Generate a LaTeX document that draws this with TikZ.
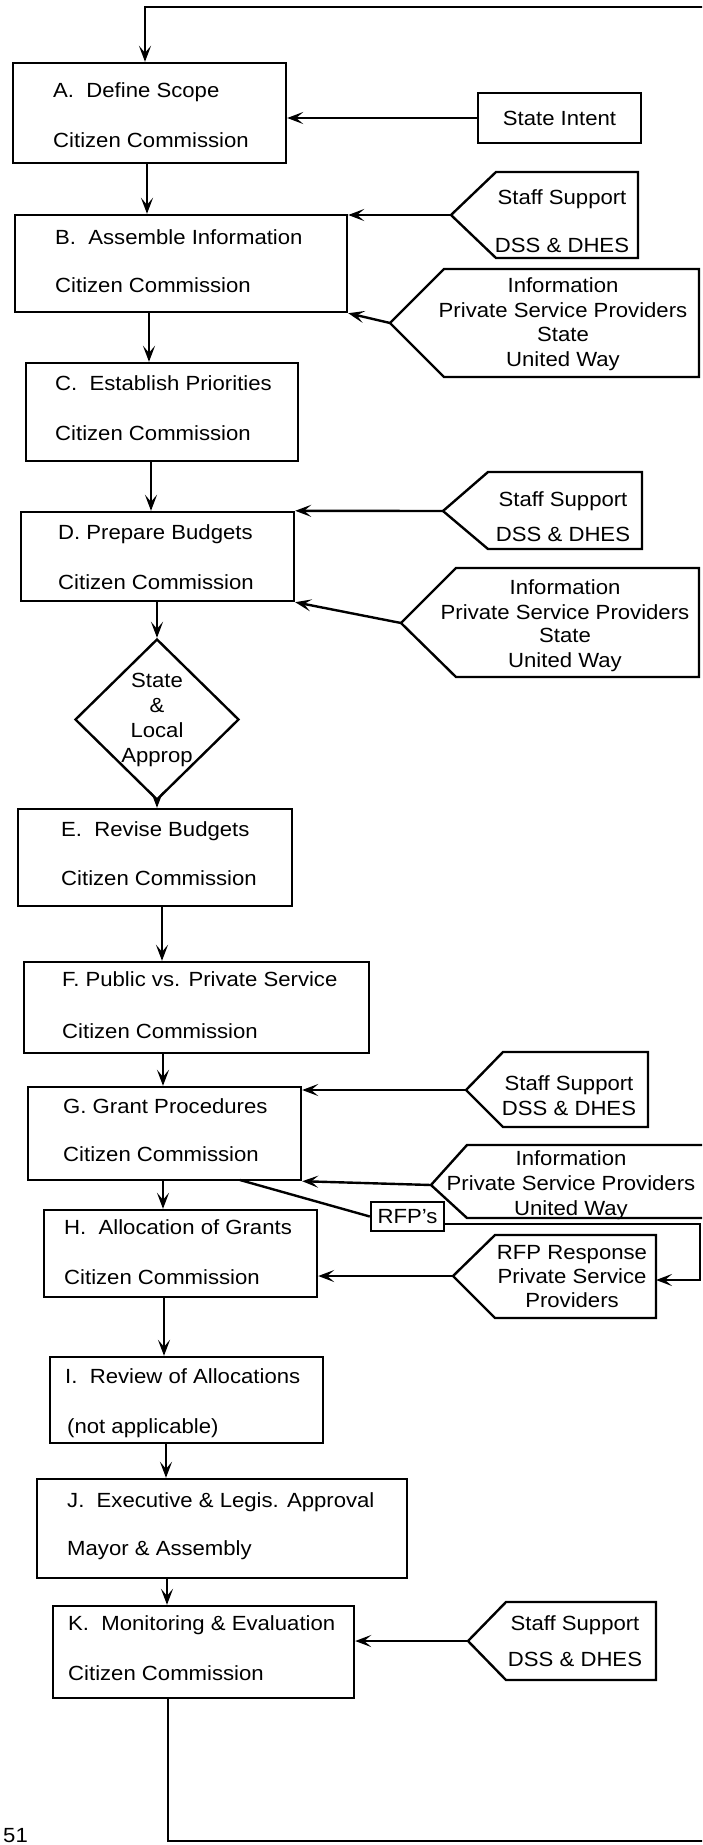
\documentclass[tikz,border=0pt]{standalone}
\usepackage{fontspec}
\setmainfont{Liberation Sans}[FakeStretch=1.08]
\usetikzlibrary{arrows.meta,shapes.geometric,fit}
\tikzset{
  line/.style={line width=2.4pt},
  box/.style={draw, line width=2.4pt, rectangle, inner sep=0pt},
  dbox/.style={draw, line width=2.4pt, diamond, inner sep=0pt},
  arr/.style={line width=2.4pt, -{Stealth[length=16pt,width=12pt,inset=7pt]}},
  txt/.style={inner sep=0pt, font=\fontsize{20.5}{24}\selectfont},
}
\newcommand{\mtext}[5]{\node[txt, anchor=#5] (#1) at (#2,#3) {#4};}
\newcommand{\pent}[7]{\draw[line, line join=miter] (#2,#3) -- (#4,#6) -- (#5,#6) -- (#5,#7) -- (#4,#7) -- cycle; \coordinate (#1) at (#2,#3);}
\newcommand{\vlink}[3]{\coordinate (v#1#2) at (#3,0); \draw[arr] (#1.south -| v#1#2) -- (#2.north -| v#1#2);}
\begin{document}
\begin{tikzpicture}[x=1pt,y=-1pt]
\useasboundingbox (0,0) rectangle (702,1845);
\clip (0,0) rectangle (702,1845);
\fill[white] (0,0) rectangle (702,1845);

% main column boxes
\node[box, fit={(13,63) (286,163)}] (A) {};
\node[box, fit={(15,215) (347,312)}] (B) {};
\node[box, fit={(26,363) (298,461)}] (C) {};
\node[box, fit={(21,512) (294,601)}] (D) {};
\node[dbox, minimum width=164pt, minimum height=161pt] (dia) at (157,719.5) {};
\node[box, fit={(18,809) (292,906)}] (E) {};
\node[box, fit={(24,962) (369,1053)}] (F) {};
\node[box, fit={(28,1087) (301,1180)}] (G) {};
\node[box, fit={(44,1210) (317,1297)}] (H) {};
\node[box, fit={(50,1357) (323,1443)}] (I) {};
\node[box, fit={(37,1479) (407,1578)}] (J) {};
\node[box, fit={(53,1606) (354,1698)}] (K) {};

% box texts
\mtext{A1}{53}{97}{A.\ \ Define Scope}{base west}
\mtext{A2}{53}{147}{Citizen Commission}{base west}
\mtext{B1}{55}{244}{B.\ \ Assemble Information}{base west}
\mtext{B2}{55}{292}{Citizen Commission}{base west}
\mtext{C1}{55}{390}{C.\ \ Establish Priorities}{base west}
\mtext{C2}{55}{440}{Citizen Commission}{base west}
\mtext{D1}{58}{539}{D. Prepare Budgets}{base west}
\mtext{D2}{58}{589}{Citizen Commission}{base west}
\mtext{dia1}{157}{687}{State}{base}
\mtext{dia2}{157}{712}{\&}{base}
\mtext{dia3}{157}{737}{Local}{base}
\mtext{dia4}{157}{762}{Approp}{base}
\mtext{E1}{61}{836}{E.\ \ Revise Budgets}{base west}
\mtext{E2}{61}{885}{Citizen Commission}{base west}
\mtext{F1}{62}{986}{F. Public vs. Private Service}{base west}
\mtext{F2}{62}{1038}{Citizen Commission}{base west}
\mtext{G1}{63}{1113}{G. Grant Procedures}{base west}
\mtext{G2}{63}{1161}{Citizen Commission}{base west}
\mtext{H1}{64}{1234}{H.\ \ Allocation of Grants}{base west}
\mtext{H2}{64}{1284}{Citizen Commission}{base west}
\mtext{I1}{65}{1383}{I.\ \ Review of Allocations}{base west}
\mtext{I2}{67}{1433}{(not applicable)}{base west}
\mtext{J1}{67}{1507}{J.\ \ Executive \& Legis. Approval}{base west}
\mtext{J2}{67}{1555}{Mayor \& Assembly}{base west}
\mtext{K1}{68}{1630}{K.\ \ Monitoring \& Evaluation}{base west}
\mtext{K2}{68}{1680}{Citizen Commission}{base west}
\mtext{pg}{3}{1842}{51}{base west}

% vertical links
\vlink{A}{B}{147}
\vlink{B}{C}{149}
\vlink{C}{D}{151}
\draw[arr] (D.south -| dia.north) -- (dia.north);
\draw[arr] (dia.south) -- (E.north -| dia.south);
\vlink{E}{F}{162}
\vlink{F}{G}{163}
\vlink{G}{H}{163}
\vlink{H}{I}{164}
\vlink{I}{J}{166}
\vlink{J}{K}{167}

% feedback loop
\coordinate (lpB) at (168,1841);
\coordinate (lpBR) at (730,1841);
\coordinate (lpTR) at (730,7);
\coordinate (lpTL) at (145,7);
\draw[arr] (K.south -| lpB) -- (lpB) -- (lpBR) -- (lpTR) -- (lpTL) -- (A.north -| lpTL);

% State Intent
\node[box, fit={(478,93) (641,143)}] (SI) {};
\node[txt] (SIt) at (SI.center) {State Intent};
\draw[arr] (SI.west) -- (A.east |- SI.west);

% side inputs
\pent{sBtip}{451}{215}{496}{638}{172}{258}
\mtext{sB1}{562}{204}{Staff Support}{base}
\mtext{sB2}{562}{252}{DSS \& DHES}{base}
\draw[arr] (sBtip) -- (B.east |- sBtip);

\pent{iBtip}{390}{323}{444}{699}{269}{377}
\mtext{iB1}{563}{292}{Information}{base}
\mtext{iB2}{563}{317}{Private Service Providers}{base}
\mtext{iB3}{563}{341}{State}{base}
\mtext{iB4}{563}{366}{United Way}{base}
\draw[arr] (iBtip) -- (B.south east);

\pent{sDtip}{443}{511}{488}{642}{472}{549}
\mtext{sD1}{563}{506}{Staff Support}{base}
\mtext{sD2}{563}{541}{DSS \& DHES}{base}
\draw[arr] (sDtip) -- (D.north east);

\pent{iDtip}{401}{623}{456}{699}{568}{677}
\mtext{iD1}{565}{594}{Information}{base}
\mtext{iD2}{565}{619}{Private Service Providers}{base}
\mtext{iD3}{565}{642}{State}{base}
\mtext{iD4}{565}{667}{United Way}{base}
\draw[arr] (iDtip) -- (D.south east);

\pent{sGtip}{466}{1090}{503}{648}{1052}{1127}
\mtext{sG1}{569}{1090}{Staff Support}{base}
\mtext{sG2}{569}{1115}{DSS \& DHES}{base}
\draw[arr] (sGtip) -- (G.east |- sGtip);

\pent{iGtip}{431}{1185}{467}{720}{1145}{1218}
\mtext{iG1}{571}{1165}{Information}{base}
\mtext{iG2}{571}{1190}{Private Service Providers}{base}
\mtext{iG3}{571}{1215}{United Way}{base}
\draw[arr] (iGtip) -- (G.south east);

% RFP's
\node[box, txt, minimum width=73pt, minimum height=29pt] (RFP) at (407.5,1216.5) {RFP's};
\coordinate (gsplit) at (240,1180);
\draw[line] (gsplit) -- (RFP.west);
\coordinate (rl1) at (700,1224);
\coordinate (rl2) at (700,1280);
\coordinate (rRe) at (656,1280);
\draw[arr] (RFP.east |- rl1) -- (rl1) -- (rl2) -- (rRe);

\pent{rRtip}{453}{1276}{495}{656}{1235}{1318}
\mtext{rR1}{572}{1259}{RFP Response}{base}
\mtext{rR2}{572}{1283}{Private Service}{base}
\mtext{rR3}{572}{1307}{Providers}{base}
\draw[arr] (rRtip) -- (H.east |- rRtip);

\pent{sKtip}{468}{1641}{506}{656}{1602}{1680}
\mtext{sK1}{575}{1630}{Staff Support}{base}
\mtext{sK2}{575}{1666}{DSS \& DHES}{base}
\draw[arr] (sKtip) -- (K.east |- sKtip);
\end{tikzpicture}
\end{document}
